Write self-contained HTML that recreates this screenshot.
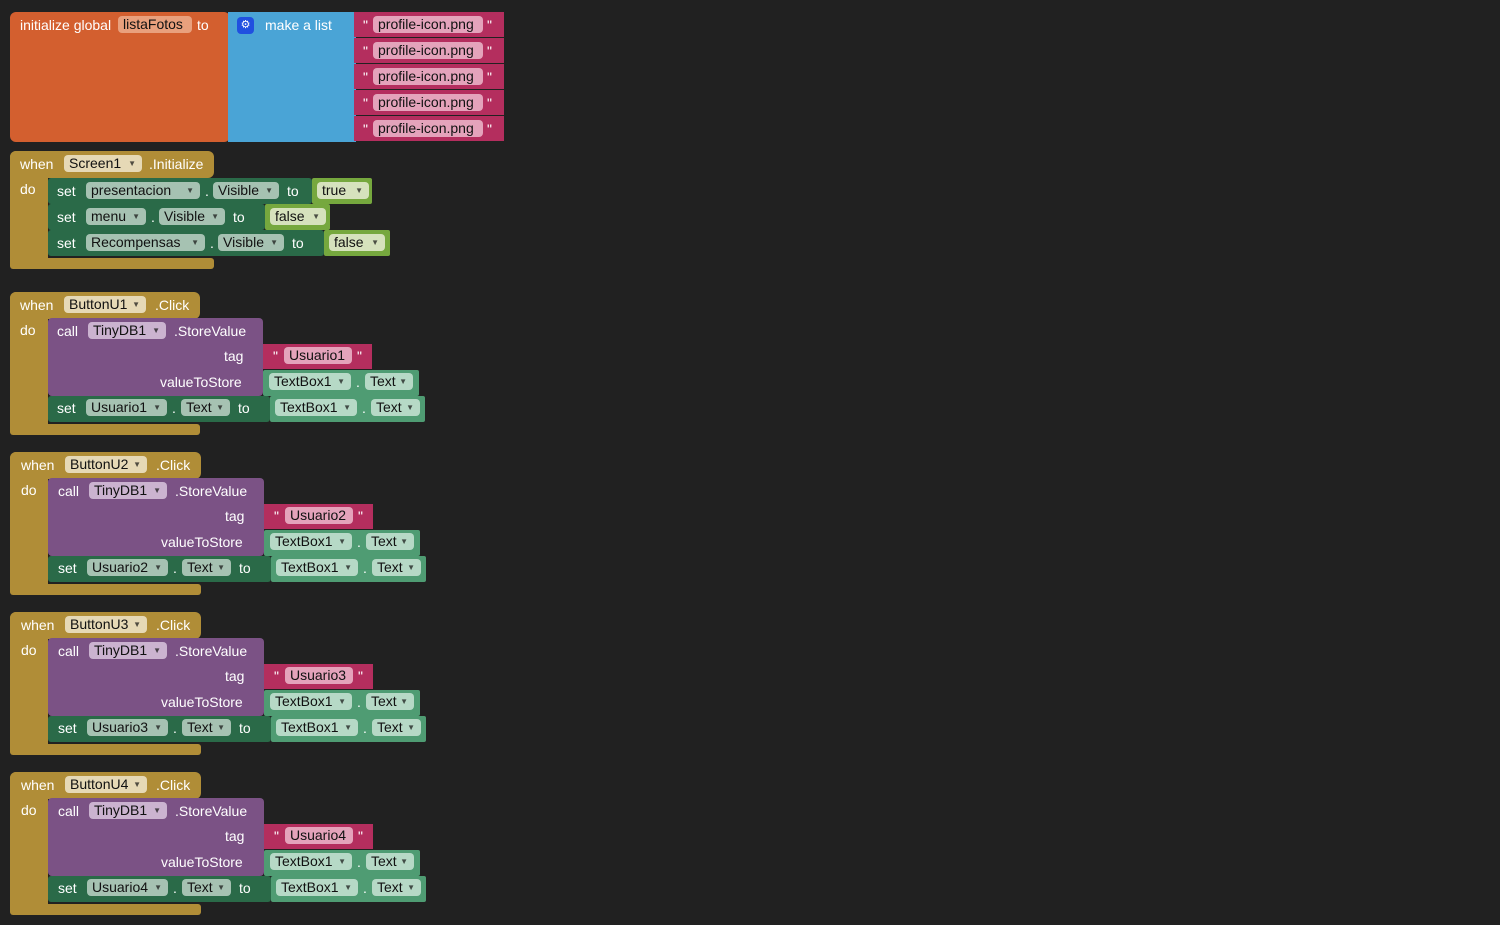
<!DOCTYPE html>
<html><head><meta charset="utf-8">
<style>
html,body{margin:0;padding:0;background:#212121;width:1500px;height:925px;overflow:hidden}
#c{position:relative;width:1500px;height:925px;font-family:"Liberation Sans",sans-serif;font-size:14px}
.r{position:absolute}
.t{position:absolute;color:#fff;line-height:17px;white-space:nowrap}
.ch{position:absolute;height:17px;line-height:17px;border-radius:4px;color:#111;white-space:nowrap;padding-left:5px;box-sizing:border-box}
.ch i{font-style:normal;font-size:8px;position:absolute;right:6px;top:0;opacity:.7}
</style></head><body><div id="c"></div>
<script>
var c=document.getElementById('c'),h='';
function R(x,y,w,h2,col,rad){h+='<div class="r" style="left:'+x+'px;top:'+y+'px;width:'+w+'px;height:'+h2+'px;background:'+col+';border-radius:'+(rad||0)+'px"></div>';}
function T(x,y,s){h+='<div class="t" style="left:'+x+'px;top:'+y+'px">'+s+'</div>';}
function C(x,y,w,s,bg,dd){h+='<div class="ch" style="left:'+x+'px;top:'+y+'px;width:'+w+'px;background:'+bg+'">'+s+(dd?'<i>&#9660;</i>':'')+'</div>';}
var gold='#b08d37',goldc='#e6d9b6',pur='#7b5285',purc='#cbb3d0',mag='#b42e5e',magc='#e4a3bb',teal='#4f9c73',tealc='#b6d9c6',dg='#2a6a48',dgc='#a6c2b2',lg='#76a83e',lgc='#d6e2bd';
// block 1
R(10,12,220,130,'#d35f2f',6);
R(228,12,128,130,'#4aa4d6');
for(var i=0;i<5;i++){var y=12+i*26;R(354,y,150,25,mag);T(363,y+5,'"');C(373,y+4,110,'profile-icon.png',magc);T(487,y+5,'"');}
T(20,17,'initialize global');C(118,16,74,'listaFotos','#e9a07d');T(197,17,'to');
h+='<div class="r" style="left:237px;top:17px;width:17px;height:17px;background:#2050e0;border-radius:4px;color:#fff;font-size:11px;line-height:17px;text-align:center">&#9881;</div>';
T(265,17,'make a list');
// screen1
R(10,151,204,27,gold,6);R(10,151,38,118,gold,6);R(10,258,204,11,gold,3);
T(20,156,'when');C(64,155,78,'Screen1',goldc,1);T(149,156,'.Initialize');T(20,181,'do');
var rows=[[178,'presentacion',114,'Visible',66,'to','true',52,312,60],[204,'menu',60,'Visible',66,'to','false',56,265,65],[230,'Recompensas',119,'Visible',66,'to','false',56,324,66]];
rows.forEach(function(r){var y=r[0];R(48,y,r[8]-48,26,dg,3);T(57,y+5,'set');C(86,y+4,r[2],r[1],dgc,1);var x=86+r[2]+5;T(x,y+5,'.');x+=8;C(x,y+4,r[4],r[3],dgc,1);x+=r[4]+8;T(x,y+5,r[5]);R(r[8],y,r[9],26,lg,2);C(r[8]+5,y+4,r[7],r[6],lgc,1);});
// button blocks
for(var k=0;k<4;k++){var d=k*160,o=k?1:0,n=k+1;
R(10,292+d,190+o,27,gold,6);R(10,292+d,38,142,gold,6);R(10,424+d,190+o,11,gold,3);
T(20+o,297+d,'when');C(64+o,296+d,82,'ButtonU'+n,goldc,1);T(155+o,297+d,'.Click');T(20+o,322+d,'do');
R(48,318+d,215+o,78,pur,4);T(57+o,323+d,'call');C(88+o,322+d,78,'TinyDB1',purc,1);T(174+o,323+d,'.StoreValue');T(224+o,348+d,'tag');T(160+o,374+d,'valueToStore');
R(263+o,344+d,109,25,mag);T(273+o,348+d,'"');C(284+o,347+d,68,'Usuario'+n,magc);T(357+o,348+d,'"');
R(263+o,370+d,156,26,teal,2);C(269+o,373+d,82,'TextBox1',tealc,1);T(356+o,374+d,'.');C(365+o,373+d,48,'Text',tealc,1);
R(48,396+d,222+o,26,dg,3);T(57+o,400+d,'set');C(86+o,399+d,81,'Usuario'+n,dgc,1);T(172+o,400+d,'.');C(181+o,399+d,49,'Text',dgc,1);T(238+o,400+d,'to');
R(270+o,396+d,155,26,teal,2);C(275+o,399+d,82,'TextBox1',tealc,1);T(362+o,400+d,'.');C(371+o,399+d,49,'Text',tealc,1);}
c.innerHTML=h;
</script></body></html>
